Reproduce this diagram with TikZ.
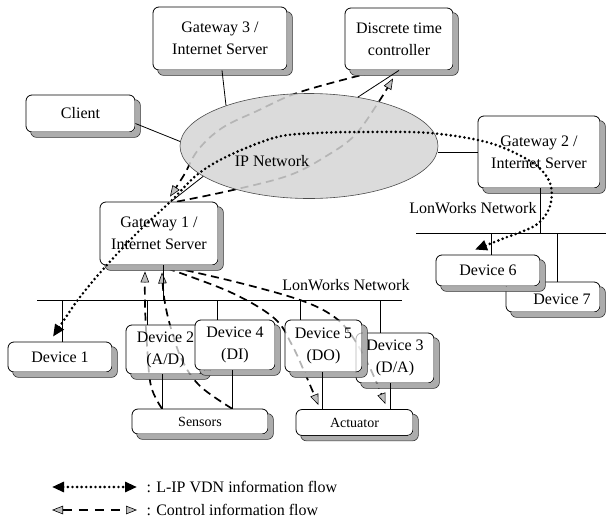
\documentclass[tikz,border=0pt]{standalone}
\usepackage{fontspec}
\setmainfont{Liberation Serif}
\usetikzlibrary{arrows.meta,shapes.geometric,backgrounds}
\tikzset{
  ipt/.tip={Triangle[length=12pt,width=10pt]},
  ctt/.tip={Triangle[length=11pt,width=8.5pt,fill=gray!50,line width=0.6pt]},
}
\newcommand{\bxshadow}[1]{\begin{scope}[even odd rule,rounded corners=6pt]
  \clip (-20,-20) rectangle (640,560) (#1.south west) rectangle (#1.north east);
  \filldraw[shadowfill]
    ([shift={(5pt,-5pt)}]#1.south west) rectangle ([shift={(5pt,-5pt)}]#1.north east);
  \end{scope}}
\begin{document}
\begin{tikzpicture}[x=1pt,y=-1pt,font=\fontsize{16}{22}\selectfont,
  box/.style={draw=black,line width=0.8pt,rounded corners=6pt,fill=white,align=center,inner sep=2pt},
  seethru/.style={fill opacity=0.7,text opacity=1},
  conn/.style={line width=0.8pt},
  ipflow/.style={line width=2.9pt,dash pattern=on 0pt off 4.6pt,line cap=round},
  ctrl/.style={line width=1.7pt,dash pattern=on 8pt off 5pt},
  smalltext/.style={font=\fontsize{14}{17}\selectfont},
  shadowfill/.style={fill=gray!65,draw=black!80,line width=0.6pt}]
\useasboundingbox (0,0) rectangle (606,523);

% IP network
\node[ellipse,draw=black!70,line width=0.6pt,fill=gray!33,fill opacity=0.85,text opacity=1,
      minimum width=258pt,minimum height=105pt,inner sep=0pt] (ipn) at (309,146) {};
\node (ipnt) at (272,161) {IP Network};

% top nodes
\node[box,minimum width=134pt,minimum height=63pt] (g3) at (220,38.5) {Gateway 3 /\\Internet Server};
\bxshadow{g3}
\node[box,minimum width=108pt,minimum height=62pt] (dtc) at (399,39) {Discrete time\\controller};
\bxshadow{dtc}
\node[box,minimum width=109pt,minimum height=37pt] (client) at (80.5,113.5) {Client};
\bxshadow{client}
\node[box,minimum width=122pt,minimum height=72pt] (g2) at (539,152) {Gateway 2 /\\Internet Server};
\bxshadow{g2}
\node[box,minimum width=118pt,minimum height=63pt] (g1) at (159,233.5) {Gateway 1 /\\Internet Server};
\bxshadow{g1}

% devices
\node[box,minimum width=104pt,minimum height=30pt] (d1) at (60,357) {Device 1};
\bxshadow{d1}
\node[box,seethru,minimum width=79pt,minimum height=49pt] (d2) at (165.5,349.5) {Device 2\\(A/D)};
\bxshadow{d2}
\node[box,minimum width=80pt,minimum height=50pt] (d4) at (235,345) {Device 4\\(DI)};
\bxshadow{d4}
\node[box,seethru,minimum width=78pt,minimum height=50pt] (d3) at (395,358) {Device 3\\(D/A)};
\bxshadow{d3}
\node[box,seethru,minimum width=77pt,minimum height=52pt] (d5) at (323.5,346) {Device 5\\(DO)};
\bxshadow{d5}
\node[box,minimum width=94pt,minimum height=30pt,label={[xshift=9pt,yshift=-2pt]center:Device 7}] (d7) at (553,297) {};
\bxshadow{d7}
\node[box,minimum width=104pt,minimum height=31pt] (d6) at (488,270.5) {Device 6};
\bxshadow{d6}
\node[box,smalltext,minimum width=136pt,minimum height=25pt] (sens) at (200,421.5) {Sensors};
\bxshadow{sens}
\node[box,smalltext,minimum width=117pt,minimum height=26pt] (act) at (354.5,422.5) {Actuator};
\bxshadow{act}

% IP connections
\draw[conn] ([yshift=-10pt]client.east) -- (ipn.178);
\draw[conn] ([xshift=2pt]g3.south) -- (ipn.154);
\draw[conn] (dtc.south) -- (ipn.45);
\draw[conn] ([xshift=12pt]g1.north) -- (ipn.196);
\draw[conn] (g2.west) -- (g2.west -| ipn.east);

% LonWorks buses
\coordinate (b1w) at (37,300);
\coordinate (b1e) at (402,300);
\coordinate (b2w) at (416,233);
\coordinate (b2e) at (606,233);
\draw[conn] (b1w) -- (b1e);
\draw[conn] (b2w) -- (b2e);
\node (lon1) at (346,285) {LonWorks Network};
\node (lon2) at (473,208) {LonWorks Network};

\draw[conn] ([xshift=4pt]g1.south) -- ([xshift=4pt]g1.south |- b1w);
\draw[conn] ([xshift=2pt]d1.north) -- ([xshift=2pt]d1.north |- b1w);
\draw[conn] ([xshift=-18.5pt]d2.north) -- ([xshift=-18.5pt]d2.north |- b1w);
\draw[conn] ([xshift=-18pt]d4.north) -- ([xshift=-18pt]d4.north |- b1w);
\draw[conn] ([xshift=-23.5pt]d5.north) -- ([xshift=-23.5pt]d5.north |- b1w);
\draw[conn] ([xshift=-15pt]d3.north) -- ([xshift=-15pt]d3.north |- b1w);
\draw[conn] ([xshift=1pt]g2.south) -- ([xshift=1pt]g2.south |- b2w);
\draw[conn] ([xshift=3pt]d6.north) -- ([xshift=3pt]d6.north |- b2w);
\draw[conn] ([xshift=4pt]d7.north) -- ([xshift=4pt]d7.north |- b2w);
\draw[conn] ([xshift=-3.5pt]d2.south) -- ([xshift=-3.5pt]d2.south |- sens.north);
\draw[conn] ([xshift=-3pt]d4.south) -- ([xshift=-3pt]d4.south |- sens.north);
\draw[conn] ([xshift=-1.5pt]d5.south) -- ([xshift=-1.5pt]d5.south |- act.north);
\draw[conn] ([xshift=-5pt]d3.south) -- ([xshift=-5pt]d3.south |- act.north);

% control information flows (behind boxes)
\coordinate (c1s) at ([xshift=-27pt,yshift=-2pt]dtc.south);
\coordinate (c1e) at ([xshift=11pt,yshift=5pt]g1.north);
\coordinate (c2s) at ([xshift=18pt]g1.north);
\coordinate (c2e) at ([xshift=-6pt,yshift=-8pt]dtc.south);
\coordinate (s1s) at ([xshift=-38pt]sens.north);
\coordinate (s1e) at ([xshift=-14pt,yshift=-6pt]g1.south);
\coordinate (s2s) at ([xshift=32pt]sens.north);
\coordinate (s2e) at ([xshift=3pt,yshift=-7pt]g1.south);
\coordinate (a1s) at ([xshift=8pt,yshift=-3pt]g1.south);
\coordinate (a1e) at ([xshift=-36pt,yshift=4pt]act.north);
\coordinate (a2s) at ([xshift=14pt,yshift=-2pt]g1.south);
\coordinate (a2e) at ([xshift=31pt,yshift=5pt]act.north);
\begin{pgfonlayer}{background}
\draw[ctrl,-ctt] plot[smooth,tension=0.6] coordinates {(c1s) (300,92) (257,111) (222,128) (198,150) (184,175) (c1e)};
\draw[ctrl,-ctt] plot[smooth,tension=0.6] coordinates {(c2s) (233,190) (290,175) (328,155) (355,135) (378,103) (c2e)};
\draw[ctrl,-ctt] plot[smooth,tension=0.6] coordinates {(s1s) (151,386) (147,345) (145,305) (s1e)};
\draw[ctrl,-ctt] plot[smooth,tension=0.6] coordinates {(s2s) (200,386) (182,360) (170,325) (164,297) (s2e)};
\draw[ctrl,-ctt] plot[smooth,tension=0.6] coordinates {(a1s) (230,292) (274,318) (292,345) (307,378) (a1e)};
\draw[ctrl,-ctt] plot[smooth,tension=0.6] coordinates {(a2s) (240,283) (300,300) (333,316) (352,336) (370,368) (a2e)};
\end{pgfonlayer}

% L-IP VDN information flow
\coordinate (ips) at ([xshift=-7pt,yshift=5pt]d1.north);
\coordinate (ipe) at ([xshift=-13pt,yshift=5pt]d6.north);
\draw[ipflow,ipt-ipt] plot[smooth,tension=0.55] coordinates {(ips) (88,287) (133,237) (170,202) (198,174) (230,155) (277,137) (317,133) (363,132) (430,133) (490,143) (533,163) (550,183) (550,206) (536,225) (502,239) (ipe)};

% legend
\coordinate (la1) at (52,487);
\coordinate (lb1) at (137,487);
\draw[ipflow,ipt-ipt] (la1) -- (lb1);
\node[anchor=west] (lt1) at (143,487) {: L-IP VDN information flow};
\coordinate (la2) at (52,510);
\coordinate (lb2) at (137,510);
\draw[ctrl,ctt-ctt,dash pattern=on 9pt off 7pt] (la2) -- (lb2);
\node[anchor=west] (lt2) at (143,510) {: Control information flow};
\end{tikzpicture}
\end{document}
